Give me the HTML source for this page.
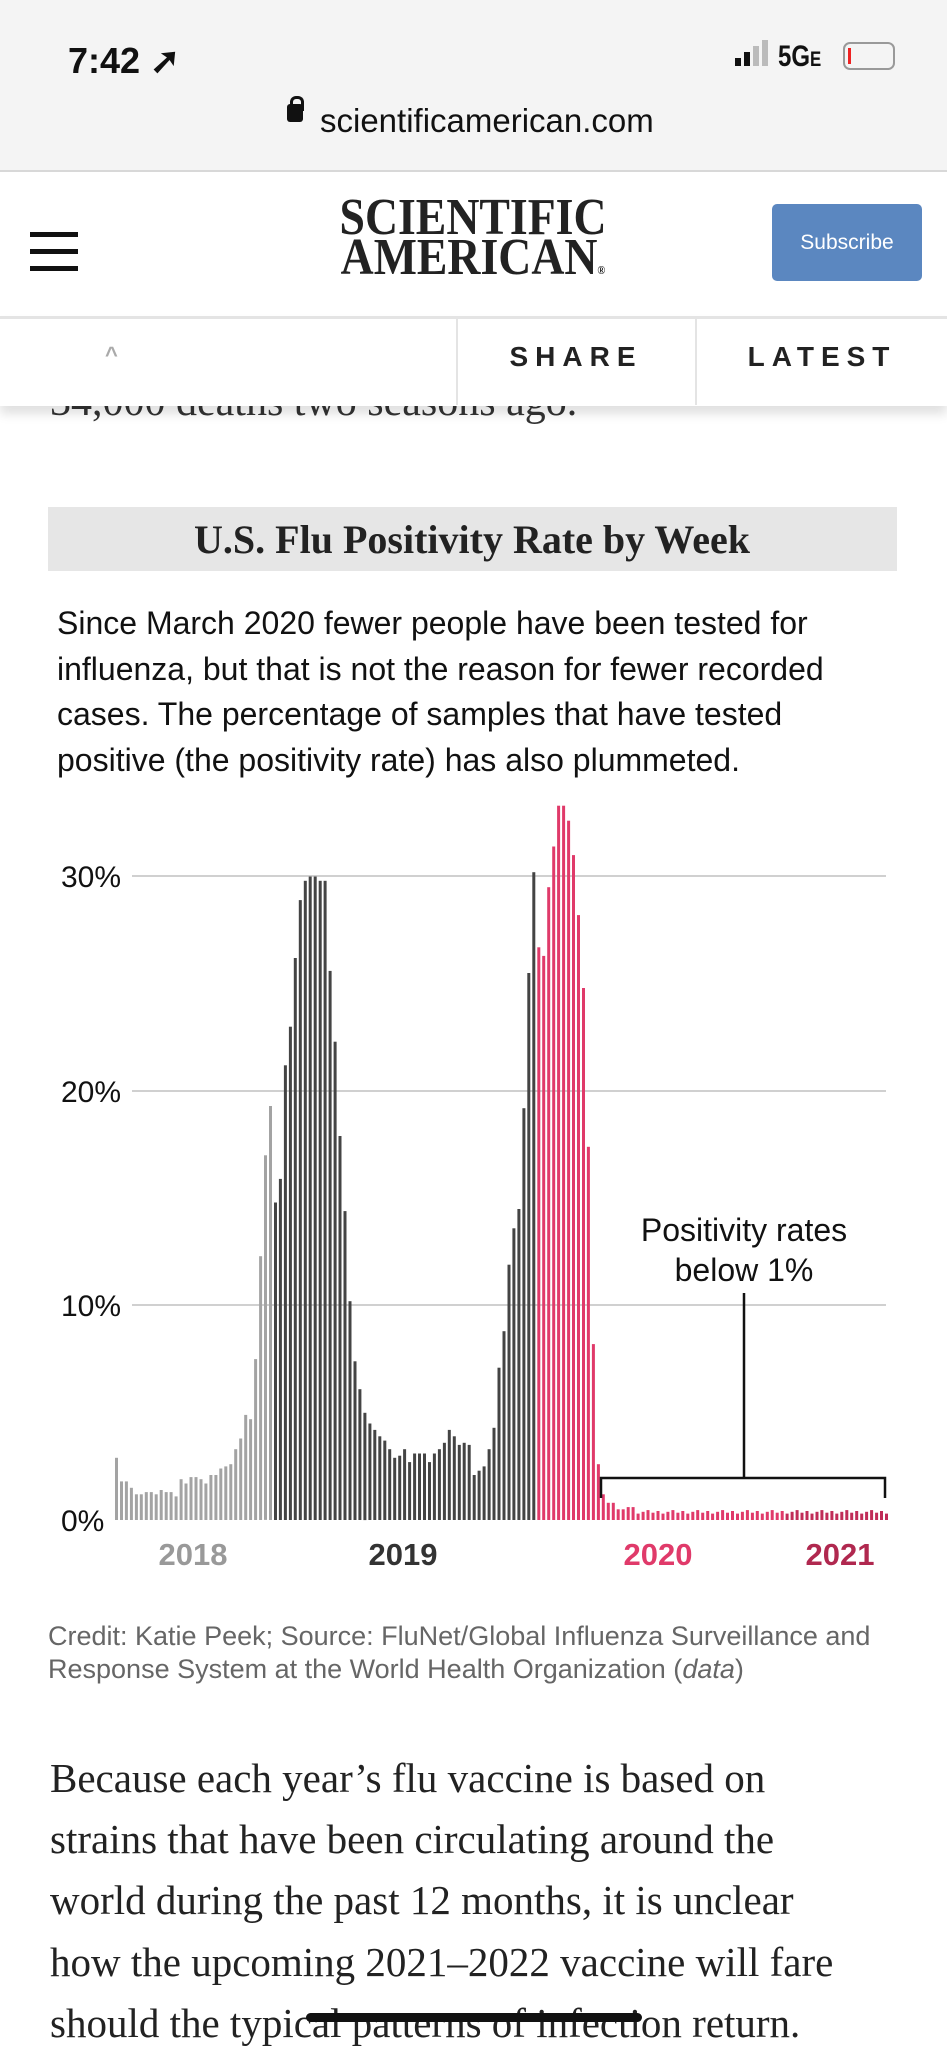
<!DOCTYPE html>
<html><head><meta charset="utf-8"><style>
body{margin:0;width:947px;height:2048px;overflow:hidden;background:#fff;position:relative;font-family:"Liberation Sans",sans-serif}
.a{position:absolute;white-space:nowrap}
.serif{font-family:"Liberation Serif",serif}
</style></head><body>
<div class="a" style="left:0;top:0;width:947px;height:170px;background:#f4f4f4;border-bottom:2px solid #d8d8d8"></div>
<div class="a" style="left:68px;top:40px;font-size:36px;font-weight:bold;color:#111">7:42 ➚</div>
<div class="a" style="left:735px;top:58px;width:6px;height:8px;background:#111"></div>
<div class="a" style="left:744px;top:52px;width:6px;height:14px;background:#111"></div>
<div class="a" style="left:753px;top:46px;width:6px;height:20px;background:#bbb"></div>
<div class="a" style="left:762px;top:40px;width:6px;height:26px;background:#bbb"></div>
<div class="a" style="left:778px;top:40px;font-size:30px;font-weight:bold;color:#111;transform:scaleX(.8);transform-origin:left">5G<span style="font-size:21px">E</span></div>
<div class="a" style="left:843px;top:42px;width:48px;height:24px;border:2px solid #999;border-radius:7px"></div>
<div class="a" style="left:848px;top:48px;width:3px;height:16px;background:#e22"></div>
<div class="a" style="left:287px;top:104px;width:16px;height:18px;background:#111;border-radius:3px"></div>
<div class="a" style="left:290px;top:96px;width:8px;height:12px;border:3px solid #111;border-bottom:none;border-radius:6px 6px 0 0"></div>
<div class="a" style="left:320px;top:102px;font-size:33px;color:#111;line-height:38px">scientificamerican.com</div>

<div class="a" style="left:30px;top:232px;width:48px;height:5px;background:#111"></div>
<div class="a" style="left:30px;top:249px;width:48px;height:5px;background:#111"></div>
<div class="a" style="left:30px;top:266px;width:48px;height:5px;background:#111"></div>
<div class="a serif" style="left:473px;top:198px;transform:translateX(-50%) scaleX(.88);font-size:52px;font-weight:bold;line-height:40px;text-align:center;color:#222">SCIENTIFIC<br>AMERICAN<span style="font-size:12px">®</span></div>
<div class="a" style="left:772px;top:204px;width:150px;height:77px;background:#5b87c0;border-radius:5px;color:#fff;font-size:21px;line-height:77px;text-align:center">Subscribe</div>

<div class="a" style="left:0;top:316px;width:947px;height:87px;background:#fff;border-top:3px solid #e4e4e4;box-shadow:0 8px 10px rgba(0,0,0,.12);z-index:2"></div>
<div class="a" style="left:456px;top:318px;width:2px;height:87px;background:#e4e4e4;z-index:3"></div>
<div class="a" style="left:695px;top:318px;width:2px;height:87px;background:#e4e4e4;z-index:3"></div>
<div class="a" style="left:105px;top:342px;font-size:22px;color:#aaa;z-index:3;font-weight:bold">^</div>
<div class="a" style="left:576px;top:341px;transform:translateX(-50%);font-size:28px;font-weight:bold;letter-spacing:7px;color:#222;z-index:3">SHARE</div>
<div class="a" style="left:822px;top:341px;transform:translateX(-50%);font-size:28px;font-weight:bold;letter-spacing:7px;color:#222;z-index:3">LATEST</div>
<div class="a serif" style="left:50px;top:378px;font-size:42px;color:#333;z-index:1">34,000 deaths two seasons ago.</div>

<div class="a" style="left:48px;top:507px;width:849px;height:64px;background:#e6e6e6"></div>
<div class="a serif" style="left:472px;top:516px;transform:translateX(-50%);font-size:40px;font-weight:bold;color:#222">U.S. Flu Positivity Rate by Week</div>
<div class="a" style="left:57px;top:601px;font-size:32px;line-height:45.7px;color:#111">Since March 2020 fewer people have been tested for<br>influenza, but that is not the reason for fewer recorded<br>cases. The percentage of samples that have tested<br>positive (the positivity rate) has also plummeted.</div>

<svg class="a" style="left:0;top:780px" width="947" height="820" viewBox="0 780 947 820" id="ch">
<g stroke="#d0d0d0" stroke-width="2">
<line x1="132" x2="886" y1="876" y2="876"/><line x1="132" x2="886" y1="1091" y2="1091"/><line x1="132" x2="886" y1="1305" y2="1305"/>
</g>
<g font-size="30" fill="#111" font-family="Liberation Sans">
<text x="61" y="887">30%</text><text x="61" y="1102">20%</text><text x="61" y="1316">10%</text><text x="61" y="1531">0%</text>
</g>
<g id="bars"></g>
<g font-size="31" font-weight="bold" text-anchor="middle" font-family="Liberation Sans">
<text x="193" y="1565" fill="#999">2018</text><text x="403" y="1565" fill="#333">2019</text><text x="658" y="1565" fill="#e03a6a">2020</text><text x="840" y="1565" fill="#b0284f">2021</text>
</g>
<path d="M601 1498V1478H885V1498M744 1478V1293" fill="none" stroke="#111" stroke-width="2.5"/>
<g font-size="32" text-anchor="middle" fill="#111" font-family="Liberation Sans"><text x="744" y="1241">Positivity rates</text><text x="744" y="1281">below 1%</text></g>
</svg>
<script>
var v=[2.9,1.8,1.8,1.5,1.2,1.2,1.3,1.3,1.2,1.4,1.3,1.3,1.1,1.9,1.7,2.0,2.0,1.9,1.7,2.1,2.1,2.4,2.5,2.6,3.3,3.8,4.9,4.7,7.5,12.3,17.0,19.3,
14.8,15.9,21.2,23,26.2,28.9,29.8,30,30,29.8,29.8,25.6,22.3,17.9,14.4,10.2,7.4,6.1,5.0,4.5,4.2,3.9,3.7,3.3,2.9,3.0,3.3,2.7,3.1,3.1,3.1,2.7,3.1,3.3,3.6,4.2,3.9,3.5,3.6,3.5,2.1,2.3,2.5,3.3,4.3,7.1,8.8,11.9,13.6,14.5,19.2,25.5,30.2,
26.7,26.3,29.5,31.4,33.3,33.3,32.6,31,28.2,24.8,17.4,8.2,2.6,1.2,0.8,0.8,0.5,0.5,0.6,0.6];
while(v.length<156)v.push(0.3+((v.length*7)%5)/25);
var s='',sp=770/155;
for(var i=0;i<156;i++){var x=116.5+i*sp,h=v[i]*21.45;var c=i<32?'#a3a3a3':i<85?'#444':i<135?'#e03a6a':'#c02c58';
s+='<rect x="'+(x-1.5).toFixed(1)+'" y="'+(1520-h).toFixed(1)+'" width="3" height="'+h.toFixed(1)+'" fill="'+c+'"/>';}
document.getElementById('bars').innerHTML=s;
</script>

<div class="a" style="left:48px;top:1620px;font-size:27px;line-height:33px;color:#666">Credit: Katie Peek; Source: FluNet/Global Influenza Surveillance and<br>Response System at the World Health Organization (<i>data</i>)</div>
<div class="a serif" style="left:50px;top:1748px;font-size:41px;line-height:61.2px;color:#222">Because each year’s flu vaccine is based on<br>strains that have been circulating around the<br>world during the past 12 months, it is unclear<br>how the upcoming 2021–2022 vaccine will fare<br>should the typical patterns of infection return.</div>
<div class="a" style="left:306px;top:2013px;width:336px;height:9px;background:#111;border-radius:5px"></div>
</body></html>
